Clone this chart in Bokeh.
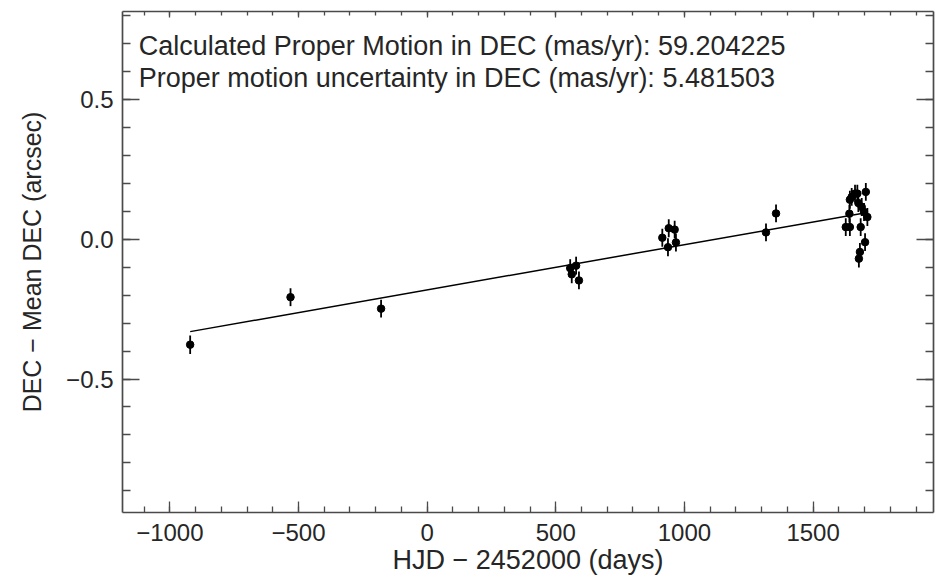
import numpy as np
from bokeh.plotting import figure
from bokeh.models import (Range1d, LinearAxis, FixedTicker, Label, ColumnDataSource,
                          CustomLabelingPolicy)
from bokeh.embed import file_html
from bokeh.resources import INLINE

# ---- data ----
hjd_days = [-921, -531, -179,
            556, 579, 562, 590,
            914, 939, 962, 967, 936,
            1317, 1356,
            1627, 1643, 1641, 1643, 1650, 1663, 1672, 1676, 1689, 1698, 1711,
            1705, 1685, 1702, 1682, 1678]
dec_arcsec = [-0.377, -0.207, -0.248,
              -0.103, -0.094, -0.125, -0.147,
              0.006, 0.040, 0.035, -0.011, -0.028,
              0.025, 0.093,
              0.044, 0.044, 0.092, 0.142, 0.152, 0.164, 0.164, 0.130, 0.116, 0.098, 0.080,
              0.170, 0.044, -0.010, -0.045, -0.069]
dec_err = [0.033, 0.032, 0.032,
           0.032, 0.032, 0.032, 0.032,
           0.032, 0.032, 0.032, 0.032, 0.032,
           0.032, 0.032,
           0.032, 0.032, 0.032, 0.032, 0.032, 0.032, 0.032, 0.032, 0.032, 0.032, 0.032,
           0.032, 0.032, 0.032, 0.032, 0.032]

pm_dec_mas_yr = 59.204225
pm_dec_err_mas_yr = 5.481503
fit_intercept = -0.181   # arcsec at HJD-2452000 = 0

x_ticks = [-1000, -500, 0, 500, 1000, 1500]
x_tick_labels = ["\u22121000", "\u2212500", "0", "500", "1000", "1500"]
x_minor = list(range(-1100, 2000, 100))
y_ticks = [-0.5, 0.0, 0.5]
y_tick_labels = ["\u22120.5", "0.0", "0.5"]
y_minor = [round(v, 1) for v in np.arange(-0.9, 0.85, 0.1)]

# ---- figure ----
p = figure(width=936, height=581, output_backend="svg", toolbar_location=None,
           x_range=Range1d(-1184, 1968), y_range=Range1d(-0.978, 0.816),
           min_border_left=122, min_border_right=3, min_border_top=11,
           min_border_bottom=69)
p.xgrid.visible = False
p.ygrid.visible = False
p.outline_line_color = None
p.background_fill_color = "white"
p.border_fill_color = "white"

AX_COL = "#4a4a4a"
FONT = "Liberation Sans"
TXT_COL = "#262626"
hide_labels = CustomLabelingPolicy(code="""
try { for (const i of Array.from(indices)) { indices.unset(i) } } catch (e) {}
return indices
""")

def style(ax, ticks, minor, labels, major_len, minor_len, show_labels):
    ax.ticker = FixedTicker(ticks=ticks, minor_ticks=minor)
    ax.axis_line_color = AX_COL
    ax.axis_line_width = 1.7
    ax.major_tick_line_color = AX_COL
    ax.minor_tick_line_color = AX_COL
    ax.major_tick_line_width = 1.3
    ax.minor_tick_line_width = 1.3
    ax.major_tick_out = 0
    ax.major_tick_in = major_len
    ax.minor_tick_out = 0
    ax.minor_tick_in = minor_len
    if show_labels:
        ax.major_label_overrides = {t: l for t, l in zip(ticks, labels)}
        ax.major_label_text_font = FONT
        ax.major_label_text_font_size = "24px"
        ax.major_label_text_color = TXT_COL
        ax.axis_label_text_font = FONT
        ax.axis_label_text_font_style = "normal"
        ax.axis_label_text_color = TXT_COL
    else:
        ax.major_label_policy = hide_labels
        ax.major_label_text_font_size = "0px"
        ax.major_label_standoff = 0

xb = p.xaxis[0]
style(xb, x_ticks, x_minor, x_tick_labels, 11, 6, True)
xb.axis_label = "HJD \u2212 2452000 (days)"
xb.axis_label_text_font_size = "27px"
xb.major_label_standoff = 11
xb.axis_label_standoff = 1

yl = p.yaxis[0]
style(yl, y_ticks, y_minor, y_tick_labels, 17, 8, True)
yl.axis_label = "DEC \u2212 Mean DEC (arcsec)"
yl.axis_label_text_font_size = "25px"
yl.major_label_standoff = 9
yl.axis_label_standoff = 17

xt = LinearAxis()
style(xt, x_ticks, x_minor, x_tick_labels, 6, 4, False)
p.add_layout(xt, "above")
yr = LinearAxis()
style(yr, y_ticks, y_minor, y_tick_labels, 17, 8, False)
p.add_layout(yr, "right")

# ---- data marks ----
x = np.array(hjd_days, dtype=float)
y = np.array(dec_arcsec)
e = np.array(dec_err)
src = ColumnDataSource(dict(x=x, y=y, lo=y - e, hi=y + e))
p.segment(x0="x", y0="lo", x1="x", y1="hi", source=src, line_color="black", line_width=1.8)
p.scatter("x", "y", source=src, size=7.5, color="black")

slope = pm_dec_mas_yr / 1000.0 / 365.25
xl = np.array([x.min(), x.max()])
p.line(xl, fit_intercept + slope * xl, line_color="black", line_width=1.5)

# ---- annotation text ----
txt1 = "Calculated Proper Motion in DEC (mas/yr): %.6f" % pm_dec_mas_yr
txt2 = "Proper motion uncertainty in DEC (mas/yr): %.6f" % pm_dec_err_mas_yr
for t, yy in [(txt1, 0.691), (txt2, 0.5765)]:
    p.add_layout(Label(x=-1121, y=yy, text=t, text_font=FONT,
                       text_font_size="27px", text_color=TXT_COL,
                       text_baseline="alphabetic"))

open("out.html", "w").write(file_html(p, INLINE))
